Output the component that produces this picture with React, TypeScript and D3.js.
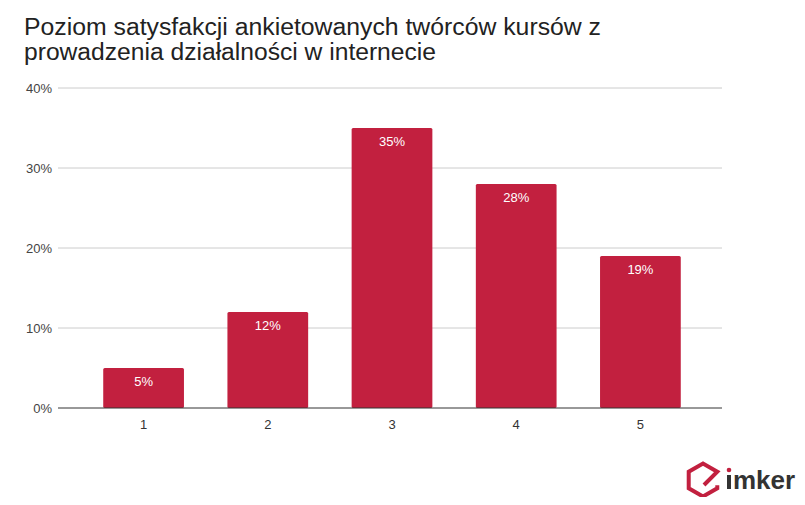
import React from "react";
import * as d3 from "d3";

const categories = ["1", "2", "3", "4", "5"];
const values = [5, 12, 35, 28, 19];
const yTicks = [0, 10, 20, 30, 40];
const titleLines = [
  "Poziom satysfakcji ankietowanych twórców kursów z",
  "prowadzenia działalności w internecie",
];

const W = 805;
const H = 505;
const left = 58;
const right = 722;
const top = 88;
const bottom = 408;
const barColor = "#c2203f";
const font = "'Liberation Sans', Arial, sans-serif";

export default function App() {
  const x = d3
    .scaleBand<string>()
    .domain(categories)
    .range([left + 3, right + 1])
    .paddingInner(0.35)
    .paddingOuter(0.34);
  const y = d3.scaleLinear().domain([0, 40]).range([bottom, top]);

  // logo hexagon
  const cx = 703,
    cy = 480,
    r = 16.5;
  const pt = (deg: number, rr = r) => [
    cx + rr * Math.cos((deg * Math.PI) / 180),
    cy + rr * Math.sin((deg * Math.PI) / 180),
  ];
  const hexPts = [30, 90, 150, 210, 270, 330].map((a) => pt(a));
  const line = d3.line();
  const hexPath = line([
    [hexPts[0][0], hexPts[0][1] - 3],
    hexPts[0],
    hexPts[1],
    hexPts[2],
    hexPts[3],
    hexPts[4],
    hexPts[5],
    [cx + 1, cy + 5],
  ] as [number, number][]);

  return (
    <div style={{ margin: -8 }}>
      <svg width={W} height={H} style={{ display: "block", background: "#fff" }}>
        <rect width={W} height={H} fill="#fff" />
        {titleLines.map((t, i) => (
          <text
            key={i}
            x={24}
            y={35 + i * 25}
            fontFamily={font}
            fontSize={23.5}
            textLength={i === 0 ? 577 : 412}
            lengthAdjust="spacingAndGlyphs"
            fill="#222"
          >
            {t}
          </text>
        ))}
        {yTicks.map((t) => (
          <g key={t}>
            {t !== 0 && (
              <line
                x1={left}
                x2={right}
                y1={y(t)}
                y2={y(t)}
                stroke="#cccccc"
                strokeWidth={1}
              />
            )}
            <text
              x={52}
              y={y(t) + 4.5}
              textAnchor="end"
              fontFamily={font}
              fontSize={13}
              fill="#444"
            >
              {t}%
            </text>
          </g>
        ))}
        {categories.map((c, i) => (
          <g key={c}>
            <rect
              x={x(c)}
              y={y(values[i])}
              width={x.bandwidth()}
              height={y(0) - y(values[i])}
              fill={barColor}
              rx={1.5}
            />
            <text
              x={(x(c) as number) + x.bandwidth() / 2}
              y={y(values[i]) + 18}
              textAnchor="middle"
              fontFamily={font}
              fontSize={13}
              fill="#fff"
            >
              {values[i]}%
            </text>
            <text
              x={(x(c) as number) + x.bandwidth() / 2}
              y={429}
              textAnchor="middle"
              fontFamily={font}
              fontSize={13}
              fill="#333"
            >
              {c}
            </text>
          </g>
        ))}
        <line x1={left} x2={right} y1={bottom} y2={bottom} stroke="#333" strokeWidth={1} />
        <g>
          <path
            d={hexPath || ""}
            fill="none"
            stroke={barColor}
            strokeWidth={4}
            strokeLinejoin="miter"
          />
          <rect x={727} y={475} width={4} height={14} fill="#333" />
          <circle cx={729} cy={470} r={2.3} fill={barColor} />
          <text
            x={733}
            y={489}
            fontFamily={font}
            fontSize={26}
            fontWeight="bold"
            fill="#333"
          >
            mker
          </text>
        </g>
      </svg>
    </div>
  );
}
